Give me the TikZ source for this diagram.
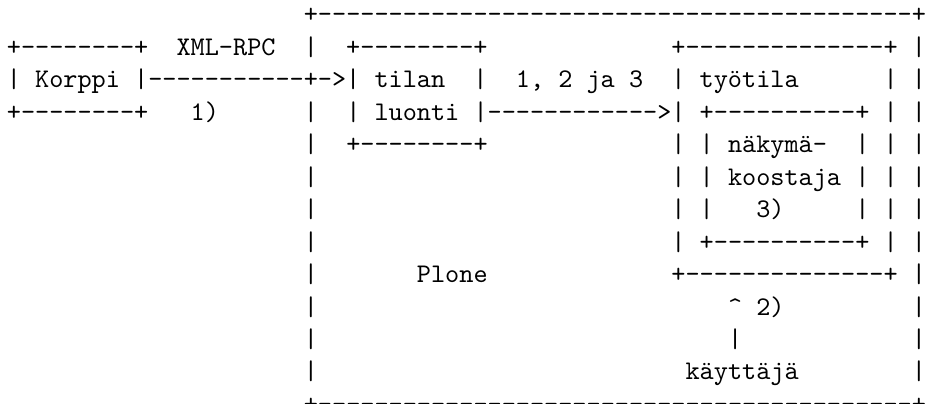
\documentclass[tikz,border=0pt]{standalone}
\usepackage{fontspec}
\setmonofont{lmmono10-regular.otf}
\usetikzlibrary{positioning}
\tikzset{row/.style={font=\ttfamily,inner sep=0pt,text height=8.4pt,text depth=3.25pt},
}
\newcommand\gap[1]{\kern#1\fontdimen2\font}

\begin{document}
\begin{tikzpicture}[node distance = 0pt]
	\fill[white] (-173.2pt,5.94pt) rectangle (171.75pt,-143.71pt);
	\useasboundingbox (-173.2pt,5.94pt) rectangle (171.75pt,-143.71pt);
	\node[row] (r1){\gap{21}+------------------------------------------+};
	\node[row] (r2)[below = of r1]{+--------+\gap{2}XML-RPC\gap{2}|\gap{2}+--------+\gap{13}+--------------+ |};
	\node[row] (r3)[below = of r2]{| Korppi |-----------+->| tilan\gap{2}|\gap{2}1, 2 ja 3\gap{2}| työtila\gap{6}| |};
	\node[row] (r4)[below = of r3]{+--------+\gap{3}1)\gap{6}|\gap{2}| luonti |------------>| +----------+ | |};
	\node[row] (r5)[below = of r4]{\gap{21}|\gap{2}+--------+\gap{13}| | näkymä-\gap{2}| | |};
	\node[row] (r6)[below = of r5]{\gap{21}|\gap{25}| | koostaja | | |};
	\node[row] (r7)[below = of r6]{\gap{21}|\gap{25}| |\gap{3}3)\gap{5}| | |};
	\node[row] (r8)[below = of r7]{\gap{21}|\gap{25}| +----------+ | |};
	\node[row] (r9)[below = of r8]{\gap{21}|\gap{7}Plone\gap{13}+--------------+ |};
	\node[row] (r10)[below = of r9]{\gap{21}|\gap{29}\textasciicircum{} 2)\gap{9}|};
	\node[row] (r11)[below = of r10]{\gap{21}|\gap{29}|\gap{12}|};
	\node[row] (r12)[below = of r11]{\gap{21}|\gap{26}käyttäjä\gap{8}|};
	\node[row,text depth=1pt] (r13)[below = of r12]{\gap{21}+------------------------------------------+};
\end{tikzpicture}
\end{document}
